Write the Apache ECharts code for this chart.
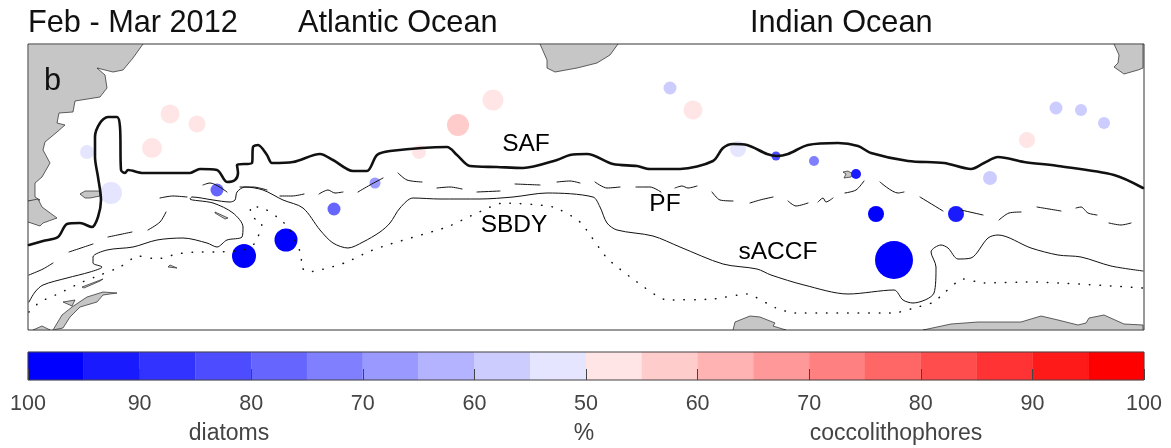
<!DOCTYPE html>
<html><head><meta charset="utf-8">
<style>html,body{margin:0;padding:0;background:#fff}#c{width:1171px;height:448px}</style>
<script src="https://cdn.jsdelivr.net/npm/echarts@6/dist/echarts.min.js"></script>
</head><body><div id="c"></div>
<script>
// Map fronts (map units)
const safFront = [[29,245],[43,241],[58,237],[67,224],[80,223],[92,227],[98,217],[101,200],[98,177],[95,157],[95,137],[100,123],[108,117],[117,117],[120,127],[121,170],[125,173],[128,170],[143,173],[167,173],[190,173],[200,169],[217,170],[227,182],[235,180],[238,173],[237,165],[252,163],[253,147],[258,145],[267,155],[272,163],[293,162],[320,154],[333,160],[353,171],[367,171],[377,155],[390,151],[447,147],[457,155],[470,166],[497,167],[523,168],[557,160],[570,155],[587,154],[613,164],[637,166],[650,169],[680,169],[713,161],[723,148],[733,144],[747,145],[767,154],[777,156],[788,154],[808,145],[838,143],[858,146],[871,153],[908,161],[944,163],[971,169],[984,163],[998,157],[1024,162],[1058,166],[1114,175],[1143,188]];
const saccfFront = [[29,302],[35,292],[43,285],[67,278],[90,272],[102,267],[93,263],[93,257],[107,250],[133,247],[157,240],[183,238],[207,243],[217,247],[227,240],[242,237],[243,227],[233,213],[213,203],[190,199],[192,197],[213,200],[230,202],[235,200],[237,192],[245,187],[263,190],[283,200],[303,208],[320,230],[333,243],[348,248],[363,242],[380,232],[390,223],[400,208],[413,198],[440,199],[480,199],[513,197],[547,193],[593,197],[600,207],[607,223],[617,230],[653,236],[680,247],[723,264],[757,269],[771,275],[804,285],[848,294],[894,290],[903,300],[913,303],[934,293],[936,267],[931,252],[941,245],[948,248],[958,259],[971,258],[988,238],[998,235],[1031,248],[1058,255],[1081,257],[1111,266],[1143,271]];
const sbdyFront = [[29,312],[40,302],[60,293],[80,283],[100,275],[120,267],[138,256],[157,259],[177,254],[197,252],[217,252],[243,250],[255,243],[262,223],[252,217],[250,207],[260,207],[277,217],[288,227],[297,245],[302,257],[300,265],[308,272],[328,268],[347,262],[368,252],[387,245],[447,227],[477,213],[503,203],[553,207],[580,222],[607,258],[637,282],[667,300],[713,299],[747,294],[770,305],[776,308],[794,313],[894,313],[914,308],[934,302],[944,293],[963,279],[984,283],[1031,282],[1143,288]];
const pfFront = [[29,275],[43,269],[53,263],null,[69,252],[93,244],null,[108,237],[132,232],null,[148,230],[160,222],[166,212],null,[160,198],[173,196],[187,197],null,[203,185],[210,183],[227,192],null,[240,187],[253,187],[267,190],null,[280,196],[292,196],[304,194],null,[319,194],[328,190],[335,193],[343,192],null,[358,192],[370,185],[383,178],null,[398,173],[407,180],[422,182],null,[437,188],[450,187],[462,189],null,[477,192],[500,191],null,[515,184],[540,185],null,[557,182],[570,181],[580,183],null,[595,182],[607,188],[620,187],null,[636,187],[650,187],[661,192],null,[675,188],[682,186],[688,188],[697,186],null,[712,192],[720,200],[733,201],null,[750,203],[760,200],[773,197],null,[788,201],[796,206],[808,203],null,[818,202],[823,198],[826,202],[833,198],null,[845,193],[856,190],[864,181],null,[880,182],[898,193],[904,192],null,[920,197],[943,211],null,[961,210],[983,215],null,[999,220],[1009,213],[1021,212],null,[1037,207],[1061,211],null,[1076,208],[1081,207],[1088,213],[1097,215],null,[1109,223],[1121,225],[1131,223]];

// Land outlines
const southAmerica = [[28,44],[143,44],[133,58],[123,70],[113,72],[97,68],[105,75],[107,88],[100,97],[75,101],[73,112],[59,113],[57,123],[65,125],[57,132],[45,142],[43,150],[50,163],[42,177],[35,183],[35,197],[40,200],[28,201]];
const tierraDelFuego = [[28,201],[38,199],[42,207],[57,218],[43,223],[40,226],[28,222]];
const falklands = [[80,194],[85,191],[100,191],[100,196],[90,198],[85,198]];
const southGeorgia = [[215,212],[228,218],[225,219],[215,213]];
const sandwich = [[168,267],[177,268],[170,265]];
const orkney = [[82,287],[103,279],[100,281],[84,288]];
const peninsula = [[53,330],[62,315],[72,307],[87,297],[103,292],[117,293],[103,295],[97,302],[80,307],[70,317],[63,328]];
const peninsulaTip = [[33,330],[42,326],[50,330]];
const shetland = [[63,302],[75,300],[72,306]];
const africa = [[540,44],[547,60],[547,68],[555,72],[577,68],[597,63],[610,55],[618,44]];
const antarcticaMid = [[733,330],[735,322],[750,316],[760,317],[770,321],[775,323],[773,326],[786,330]];
const antarcticaEast = [[923,330],[951,324],[978,322],[1021,322],[1041,316],[1058,320],[1078,325],[1086,323],[1089,318],[1104,315],[1124,324],[1143,325],[1143,330]];
const madagascar = [[1114,44],[1119,55],[1118,63],[1114,67],[1124,74],[1138,70],[1143,68],[1143,44]];
const kerguelen = [[843,172],[848,171],[853,174],[851,177],[844,178],[846,174]];
const landShapes = [southAmerica,tierraDelFuego,falklands,southGeorgia,sandwich,orkney,peninsula,peninsulaTip,shetland,africa,antarcticaMid,antarcticaEast,madagascar,kerguelen];

// Stations: position, signed share (negative = diatoms, positive = coccolithophores), abundance
const stationX = [170,197,152,87,111,217,334,375,244,286,419,458,493,670,693,738,776,814,856,876,956,894,990,1027,1056,1081,1104];
const stationY = [114,124,148,152,193,190,209,183,256,240,152,125,100,88,110,149,156,161,174,214,214,260,178,140,108,110,123];
const stationShare = [52,52,52,-52,-52,-77,-77,-67,-98,-98,52,58,52,-58,52,-52,-83,-73,-93,-98,-93,-98,-58,52,-58,-58,-58];
const stationAbundance = [19,17,20,14,22,13,13,11,24,23,14,22,21,13,19,16,9,10,10,16,16,38,14,16,13,12,12];

// Colour bar
const binStart = [-50,-45,-40,-35,-30,-25,-20,-15,-10,-5,0,5,10,15,20,25,30,35,40,45];
const binColors = ['#0000ff','#1a1aff','#3333ff','#4d4dff','#6666ff','#8080ff','#9999ff','#b3b3ff','#ccccff','#e5e5ff','#ffe5e5','#ffcccc','#ffb3b3','#ff9999','#ff8080','#ff6666','#ff4d4d','#ff3333','#ff1a1a','#ff0000'];
const binWidth = 5;
const tickPositions = [-50,-40,-30,-20,-10,0,10,20,30,40,50];
const tickLabels = ['100','90','80','70','60','50','60','70','80','90','100'];

// Text
const regionNames = ['SAF','PF','SBDY','sACCF'];
const regionX = [526,665,514,778];
const regionY = [144,204,225,252];

const FONT = '"Liberation Sans", Arial, sans-serif';

function shareColor(s){
  // s is signed: -100..-50 maps to the left half of the bar, 50..100 to the right half
  const bar = s < 0 ? (100 + s) - 50 : s - 50;
  let idx = 0;
  binStart.forEach((b,i)=>{ if (bar >= b) idx = i; });
  return binColors[idx];
}

const chart = echarts.init(document.getElementById('c'), null, {renderer:'canvas'});
const lineSeries = (name,data,width,extra) => Object.assign({
  name, type:'line', xAxisIndex:0, yAxisIndex:0, data, showSymbol:false, symbol:'none',
  connectNulls:false, silent:true, z:4, animation:false, smooth:0.3, smoothMonotone:null,
  lineStyle:{color:'#111',width,join:'round',cap:'round'}
}, extra||{});
const topText = (text,left,top,fontSize,color) => ({text,left,top,textStyle:{fontFamily:FONT,fontSize,fontWeight:'normal',color}});
const footText = (text,left) => Object.assign(topText(text,left,417,23,'#444'),{textAlign:'center'});

chart.setOption({
  animation:false,
  backgroundColor:'#fff',
  textStyle:{fontFamily:FONT},
  title:[
    topText('Feb - Mar 2012',23,3,30.7,'#111'),
    topText('Atlantic Ocean',293,3,30.7,'#111'),
    topText('Indian Ocean',745,3,30.7,'#111'),
    topText('b',39,61,30.7,'#111'),
    footText('diatoms',224),
    footText('%',579),
    footText('coccolithophores',891)
  ],
  grid:[
    {left:28,width:1116,top:44,height:286,show:true,borderColor:'#333',borderWidth:1,backgroundColor:'#fff',z:0},
    {left:28,width:1116,top:352,height:28,show:false}
  ],
  xAxis:[
    {gridIndex:0,type:'value',min:28,max:1144,show:false},
    {gridIndex:1,type:'value',min:-50,max:50,interval:10,z:10,
      axisLine:{show:false},
      axisTick:{show:true,inside:true,length:11,lineStyle:{color:'#444',width:1}},
      splitLine:{show:false},
      axisLabel:{margin:13,fontSize:21.5,color:'#444',fontFamily:FONT,hideOverlap:false,showMinLabel:true,showMaxLabel:true,
        formatter:v=>tickLabels[tickPositions.indexOf(v)]}}
  ],
  yAxis:[
    {gridIndex:0,type:'value',min:44,max:330,inverse:true,show:false},
    {gridIndex:1,type:'value',min:0,max:1,show:false}
  ],
  series:[
    {type:'custom',name:'land',xAxisIndex:0,yAxisIndex:0,silent:true,z:1,clip:true,
      data:landShapes.map((s,i)=>[s[0][0],s[0][1],i]),
      renderItem:(p,api)=>({type:'polygon',
        shape:{points:landShapes[api.value(2)].map(q=>api.coord(q))},
        style:{fill:'#c6c6c6',stroke:'#222',lineWidth:0.7}})},
    {type:'scatter',name:'stations',xAxisIndex:0,yAxisIndex:0,silent:true,z:2,
      data:stationX.map((x,i)=>({value:[x,stationY[i],stationAbundance[i]],itemStyle:{color:shareColor(stationShare[i]),opacity:1}})),
      symbolSize:v=>v[2]},
    lineSeries('SAF',safFront,2.6),
    lineSeries('sACCF',saccfFront,1),
    lineSeries('PF',pfFront.map(p=>p||[null,null]),1),
    lineSeries('SBDY',sbdyFront,1.5,{smooth:0.2,lineStyle:{color:'#111',width:1.5,type:[0.5,10],cap:'round'}}),
    {type:'scatter',name:'labels',xAxisIndex:0,yAxisIndex:0,silent:true,z:6,symbolSize:0,
      data:regionNames.map((n,i)=>({name:n,value:[regionX[i],regionY[i]]})),
      label:{show:true,position:'inside',formatter:'{b}',fontFamily:FONT,fontSize:24.5,color:'#000',opacity:1}},
    {type:'custom',name:'colorbar',xAxisIndex:1,yAxisIndex:1,silent:true,z:3,
      data:binStart.map((b,i)=>[b,b+binWidth,i]),
      renderItem:(p,api)=>{
        const a=api.coord([api.value(0),1]), b=api.coord([api.value(1),0]);
        return {type:'rect',shape:{x:a[0],y:a[1],width:b[0]-a[0],height:b[1]-a[1]},
          style:{fill:binColors[api.value(2)],stroke:binColors[api.value(2)],lineWidth:0.3}};
      }}
  ],
  graphic:[
    {type:'rect',silent:true,z:100,shape:{x:28,y:352,width:1116,height:28},style:{fill:'none',stroke:'#444',lineWidth:1}}
  ]
});
</script>
</body></html>
